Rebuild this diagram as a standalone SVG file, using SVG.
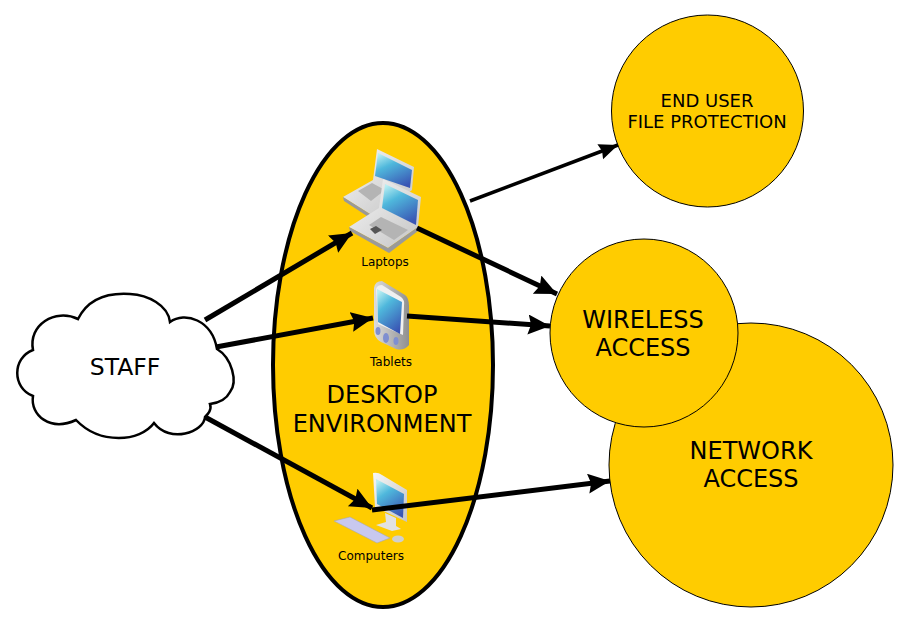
<svg xmlns="http://www.w3.org/2000/svg" width="908" height="622" viewBox="0 0 908 622">
<style>
text{font-family:"DejaVu Sans",sans-serif;fill:#000;text-anchor:middle}
.big{font-size:24px}.mid{font-size:18px}.sm{font-size:12px}
.disc{fill:#ffcc00;stroke:#000;stroke-width:1}
.wire{fill:none;stroke:#000;stroke-linecap:butt}
.key{fill:#b4b4b4;stroke:none}
</style>
<defs>
<marker id="head" markerUnits="userSpaceOnUse" markerWidth="24" markerHeight="22" refX="22" refY="10" orient="auto"><path d="M0,0L22,10L0,20L3,10Z" fill="#000"/></marker>
<marker id="headS" markerUnits="userSpaceOnUse" markerWidth="20" markerHeight="18" refX="19" refY="8" orient="auto"><path d="M0,0L19,8L0,16L2,8Z" fill="#000"/></marker>
<linearGradient id="screen" x1="0.2" y1="0" x2="0.7" y2="1"><stop offset="0" stop-color="#b8eef2"/><stop offset="0.35" stop-color="#4fb8dc"/><stop offset="1" stop-color="#3a55b4"/></linearGradient>
<linearGradient id="metal" x1="0" y1="0" x2="1" y2="1"><stop offset="0" stop-color="#f6f6f6"/><stop offset="1" stop-color="#c4c4c4"/></linearGradient>
<linearGradient id="metalD" x1="0" y1="0" x2="1" y2="0"><stop offset="0" stop-color="#dcdcdc"/><stop offset="1" stop-color="#8f8f8f"/></linearGradient>
</defs>

<g id="network-access">
<circle class="disc" cx="751" cy="465" r="142"/>
<text class="big" x="751" y="459">NETWORK</text>
<text class="big" x="751" y="487">ACCESS</text>
</g>
<g id="wireless-access">
<circle class="disc" cx="644" cy="333" r="94"/>
<text class="big" x="643" y="328">WIRELESS</text>
<text class="big" x="643" y="356">ACCESS</text>
</g>
<g id="end-user">
<circle class="disc" cx="707.500" cy="111" r="96"/>
<text class="mid" x="707" y="107">END USER</text>
<text class="mid" x="707" y="128">FILE PROTECTION</text>
</g>

<g id="desktop-environment">
<ellipse cx="383" cy="365" rx="110" ry="242" fill="#ffcc00" stroke="#000" stroke-width="4"/>
<text class="big" x="382" y="403">DESKTOP</text>
<text class="big" x="382" y="432">ENVIRONMENT</text>
</g>

<g id="staff">
<path d="M78,319C90,295 115,293 130,294C148,295 168,305 170,322C185,311 212,320 217,349C232,358 238,382 230,392C226,400 218,403 210,404C212,410 208,414 205,417C204,432 170,444 154,423C140,442 100,445 76,420C50,432 30,415 33,396C12,388 12,358 33,350C28,325 55,308 78,319Z" fill="#fff" stroke="#000" stroke-width="2.500"/>
<text x="125" y="375" font-size="23.500px">STAFF</text>
</g>

<g id="laptops">
<path d="M343,197L373,180L377,149L414,167L412,190L381,214L370,214Z" fill="url(#metal)"/>
<path d="M378,153L412,170L410,188L375,176Z" fill="url(#screen)"/>
<path d="M343,197L370,214L370,218L344,201Z" fill="#999"/>
<path d="M358,191L372,183L385,190L371,201Z" class="key"/>
<path d="M349,227L379,208L383,179L421,197L418,227L388,248Z" fill="url(#metal)"/>
<path d="M385,184L418,200L416,225L382,208Z" fill="url(#screen)"/>
<path d="M349,227L388,248L418,227L418,231L389,253L350,231Z" fill="#9a9a9a"/>
<path d="M369,225L381,217L408,230L394,240Z" class="key"/>
<path d="M370,229L376,226L382,230L375,234Z" fill="#555"/>
<text class="sm" x="385" y="266">Laptops</text>
</g>

<g id="tablets">
<path d="M374,288Q375,281 382,281L405,295Q409,298 409,306L409,345Q404,351 396,349L381,342Q374,338 374,330Z" fill="url(#metalD)"/>
<path d="M376,289Q377,285 382,285L401,297Q405,300 404,306L403,335L378,324Z" fill="#f0f0f0"/>
<path d="M377,289L402,302L400,334L378,322Z" fill="url(#screen)"/>
<ellipse cx="378" cy="331" rx="2.500" ry="4" fill="#7f8fd0"/>
<ellipse cx="386" cy="338" rx="3" ry="5" fill="#7f8fd0"/>
<ellipse cx="396" cy="341" rx="2.500" ry="4" fill="#7f8fd0"/>
<text class="sm" x="391" y="366">Tablets</text>
</g>

<g id="computers">
<path d="M373,473Q378,472 382,475L407,490L407,522L375,507Z" fill="url(#metal)"/>
<path d="M376,479L404,494L403,518L377,504Z" fill="url(#screen)"/>
<path d="M385,513L396,518L396,526L401,529L392,531L376,525L386,522Z" fill="#e2e2e2"/>
<path d="M334,521L350,517L390,538L377,543Z" fill="#c8c8ee" stroke="#aaa" stroke-width="0.600"/>
<ellipse cx="398" cy="539" rx="6" ry="3.500" fill="#cfcfcf"/>
<text class="sm" x="371" y="560">Computers</text>
</g>

<g id="connectors">
<path class="wire" stroke-width="5" marker-end="url(#head)" d="M205,320L352,233"/>
<path class="wire" stroke-width="5" marker-end="url(#head)" d="M216,347L373,318"/>
<path class="wire" stroke-width="5" marker-end="url(#head)" d="M205,417L372,508"/>
<path class="wire" stroke-width="5" marker-end="url(#head)" d="M372,510L610,481"/>
<path class="wire" stroke-width="5" marker-end="url(#head)" d="M417,228L557,294"/>
<path class="wire" stroke-width="5" marker-end="url(#head)" d="M407,316L550,326"/>
<path class="wire" stroke-width="3.500" marker-end="url(#headS)" d="M470,201L618,145"/>
</g>
</svg>
